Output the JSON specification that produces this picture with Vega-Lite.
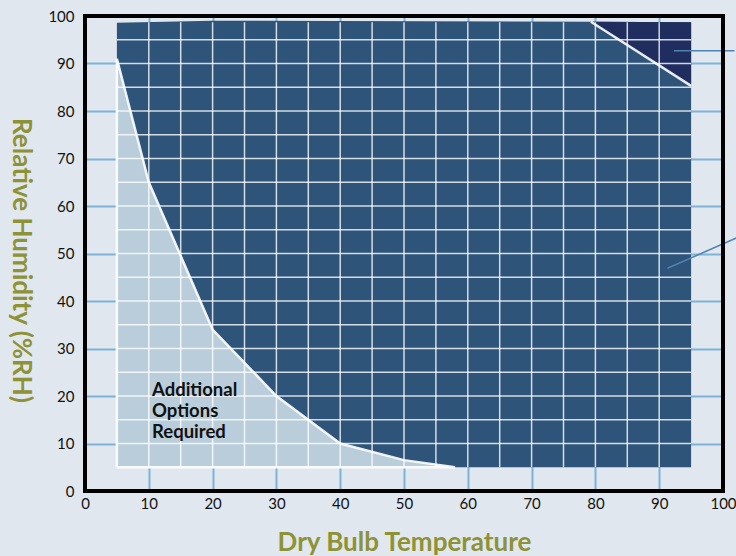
{
  "$schema": "https://vega.github.io/schema/vega-lite/v6.json",
  "width": 638,
  "height": 475,
  "autosize": {"type": "none"},
  "padding": {"left": 85, "top": 16, "right": 13, "bottom": 65},
  "background": "#e0e7ee",
  "config": {
    "view": {"stroke": null, "fill": null},
    "font": "Lato"
  },
  "datasets": {
    "dark": [
      {"x": 5, "top": 98.6},
      {"x": 20, "top": 99.0},
      {"x": 80, "top": 98.8},
      {"x": 95, "top": 98.7}
    ],
    "corner": [
      {"x": 79.3, "top": 98.8, "bot": 98.8},
      {"x": 95, "top": 98.7, "bot": 85.3}
    ],
    "light": [
      {"x": 5, "rh": 91},
      {"x": 10, "rh": 65},
      {"x": 20, "rh": 34},
      {"x": 30, "rh": 20},
      {"x": 40, "rh": 10},
      {"x": 50, "rh": 6.5},
      {"x": 58, "rh": 5}
    ],
    "grid": [
      {"x": 10, "x2": 10, "y": 5, "y2": 98.7},
      {"x": 15, "x2": 15, "y": 5, "y2": 98.7},
      {"x": 20, "x2": 20, "y": 5, "y2": 98.7},
      {"x": 25, "x2": 25, "y": 5, "y2": 98.7},
      {"x": 30, "x2": 30, "y": 5, "y2": 98.7},
      {"x": 35, "x2": 35, "y": 5, "y2": 98.7},
      {"x": 40, "x2": 40, "y": 5, "y2": 98.7},
      {"x": 45, "x2": 45, "y": 5, "y2": 98.7},
      {"x": 50, "x2": 50, "y": 5, "y2": 98.7},
      {"x": 55, "x2": 55, "y": 5, "y2": 98.7},
      {"x": 60, "x2": 60, "y": 5, "y2": 98.7},
      {"x": 65, "x2": 65, "y": 5, "y2": 98.7},
      {"x": 70, "x2": 70, "y": 5, "y2": 98.7},
      {"x": 75, "x2": 75, "y": 5, "y2": 98.7},
      {"x": 80, "x2": 80, "y": 5, "y2": 98.7},
      {"x": 85, "x2": 85, "y": 5, "y2": 98.7},
      {"x": 90, "x2": 90, "y": 5, "y2": 98.7},
      {"x": 5, "x2": 95, "y": 10, "y2": 10},
      {"x": 5, "x2": 95, "y": 15, "y2": 15},
      {"x": 5, "x2": 95, "y": 20, "y2": 20},
      {"x": 5, "x2": 95, "y": 25, "y2": 25},
      {"x": 5, "x2": 95, "y": 30, "y2": 30},
      {"x": 5, "x2": 95, "y": 35, "y2": 35},
      {"x": 5, "x2": 95, "y": 40, "y2": 40},
      {"x": 5, "x2": 95, "y": 45, "y2": 45},
      {"x": 5, "x2": 95, "y": 50, "y2": 50},
      {"x": 5, "x2": 95, "y": 55, "y2": 55},
      {"x": 5, "x2": 95, "y": 60, "y2": 60},
      {"x": 5, "x2": 95, "y": 65, "y2": 65},
      {"x": 5, "x2": 95, "y": 70, "y2": 70},
      {"x": 5, "x2": 95, "y": 75, "y2": 75},
      {"x": 5, "x2": 95, "y": 80, "y2": 80},
      {"x": 5, "x2": 95, "y": 85, "y2": 85},
      {"x": 5, "x2": 95, "y": 90, "y2": 90},
      {"x": 5, "x2": 95, "y": 95, "y2": 95}
    ],
    "edges": [
      {"seg": "a", "o": 1, "x": 5, "rh": 5},
      {"seg": "a", "o": 2, "x": 5, "rh": 91},
      {"seg": "a", "o": 3, "x": 10, "rh": 65},
      {"seg": "a", "o": 4, "x": 20, "rh": 34},
      {"seg": "a", "o": 5, "x": 30, "rh": 20},
      {"seg": "a", "o": 6, "x": 40, "rh": 10},
      {"seg": "a", "o": 7, "x": 50, "rh": 6.5},
      {"seg": "a", "o": 8, "x": 58, "rh": 5},
      {"seg": "a", "o": 9, "x": 5, "rh": 5},
      {"seg": "b", "o": 1, "x": 79.3, "rh": 98.8},
      {"seg": "b", "o": 2, "x": 95, "rh": 85.3}
    ],
    "pointers": [
      {"x": 92.3, "y": 92.7, "x2": 101.8, "y2": 92.7},
      {"x": 91.3, "y": 46.9, "x2": 102.5, "y2": 53.5}
    ],
    "labels": [
      {"x": 10.5, "rh": 23.2, "label": "Additional\nOptions\nRequired"}
    ],
    "frame": [
      {"x": 0, "x2": 100, "y": 0, "y2": 100}
    ]
  },
  "layer": [
    {
      "data": {"name": "dark"},
      "mark": {"type": "area", "color": "#2e5479"},
      "encoding": {
        "x": {
          "field": "x",
          "type": "quantitative",
          "scale": {"domain": [0, 100], "nice": false},
          "axis": {
            "values": [0, 5, 10, 15, 20, 25, 30, 35, 40, 45, 50, 55, 60, 65, 70, 75, 80, 85, 90, 95, 100],
            "labelExpr": "datum.value % 10 === 0 ? datum.label : ''",
            "domain": false,
            "ticks": false,
            "labelPadding": 5,
            "labelFontSize": 15,
            "labelColor": "#111111",
            "labelFont": "Lato",
            "labelFlush": false,
            "grid": true,
            "gridColor": "#7db3d8",
            "gridWidth": 2,
            "title": "Dry Bulb Temperature",
            "titleFont": "Lato",
            "titleFontSize": 26,
            "titleFontWeight": "bold",
            "titleColor": "#8e9236",
            "titleBaseline": "middle",
            "titleY": 51
          }
        },
        "y": {
          "field": "top",
          "type": "quantitative",
          "scale": {"domain": [0, 100], "nice": false},
          "axis": {
            "values": [0, 5, 10, 15, 20, 25, 30, 35, 40, 45, 50, 55, 60, 65, 70, 75, 80, 85, 90, 95, 100],
            "labelExpr": "datum.value % 10 === 0 ? datum.label : ''",
            "domain": false,
            "ticks": false,
            "labelPadding": 11,
            "labelFontSize": 15,
            "labelColor": "#111111",
            "labelFont": "Lato",
            "labelFlush": false,
            "grid": true,
            "gridColor": "#7db3d8",
            "gridWidth": 2,
            "title": "Relative Humidity (%RH)",
            "titleFont": "Lato",
            "titleFontSize": 26,
            "titleFontWeight": "bold",
            "titleColor": "#8e9236",
            "titleAngle": 90,
            "titleAlign": "center",
            "titleBaseline": "middle",
            "titleX": -65,
            "titleY": 244
          }
        },
        "y2": {"datum": 5}
      }
    },
    {
      "data": {"name": "corner"},
      "mark": {"type": "area", "color": "#1f2e5e"},
      "encoding": {
        "x": {"field": "x", "type": "quantitative"},
        "y": {"field": "top", "type": "quantitative"},
        "y2": {"field": "bot"}
      }
    },
    {
      "data": {"name": "light"},
      "mark": {"type": "area", "color": "#b9cdda"},
      "encoding": {
        "x": {"field": "x", "type": "quantitative"},
        "y": {"field": "rh", "type": "quantitative"},
        "y2": {"datum": 5}
      }
    },
    {
      "data": {"name": "grid"},
      "mark": {"type": "rule", "color": "#ffffff", "strokeWidth": 1.5, "opacity": 0.8},
      "encoding": {
        "x": {"field": "x", "type": "quantitative"},
        "x2": {"field": "x2"},
        "y": {"field": "y", "type": "quantitative"},
        "y2": {"field": "y2"}
      }
    },
    {
      "data": {"name": "edges"},
      "mark": {"type": "line", "color": "#ffffff", "strokeWidth": 2.5, "opacity": 0.9},
      "encoding": {
        "x": {"field": "x", "type": "quantitative"},
        "y": {"field": "rh", "type": "quantitative"},
        "detail": {"field": "seg"},
        "order": {"field": "o"}
      }
    },
    {
      "data": {"name": "pointers"},
      "mark": {"type": "rule", "color": "#4f83b0", "strokeWidth": 1.5},
      "encoding": {
        "x": {"field": "x", "type": "quantitative"},
        "x2": {"field": "x2"},
        "y": {"field": "y", "type": "quantitative"},
        "y2": {"field": "y2"}
      }
    },
    {
      "data": {"name": "frame"},
      "mark": {"type": "rect", "fill": null, "stroke": "#000000", "strokeWidth": 4},
      "encoding": {
        "x": {"field": "x", "type": "quantitative"},
        "x2": {"field": "x2"},
        "y": {"field": "y", "type": "quantitative"},
        "y2": {"field": "y2"}
      }
    },
    {
      "data": {"name": "labels"},
      "mark": {
        "type": "text",
        "align": "left",
        "baseline": "top",
        "lineBreak": "\n",
        "lineHeight": 21,
        "font": "Lato",
        "fontSize": 18.5,
        "fontWeight": "bold",
        "color": "#111111"
      },
      "encoding": {
        "x": {"field": "x", "type": "quantitative"},
        "y": {"field": "rh", "type": "quantitative"},
        "text": {"field": "label"}
      }
    }
  ]
}
